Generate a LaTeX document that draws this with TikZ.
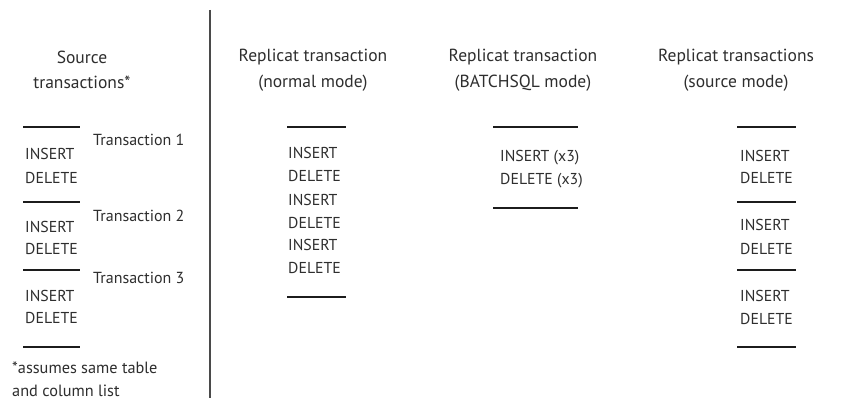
\documentclass[tikz,border=0pt]{standalone}
\usepackage{fontspec}
\setmainfont{PT Sans}
\usepackage{xcolor}
\definecolor{T0}{HTML}{2e2e2e}
\definecolor{B0}{HTML}{1c1c1c}
\definecolor{V0}{HTML}{4a4a4a}
\tikzset{
  ttl/.style={align=center,inner sep=0pt,text=T0,font=\fontsize{17.5}{25.5}\selectfont},
  op/.style={anchor=base west,inner sep=0pt,text=T0,font=\fontsize{15.8}{18}\selectfont},
  tlab/.style={anchor=base west,inner sep=0pt,text=T0,font=\fontsize{16}{18}\selectfont},
  note/.style={anchor=base west,inner sep=0pt,text=T0,font=\fontsize{16.3}{18}\selectfont},
}

\begin{document}
\begin{tikzpicture}[x=1pt,y=-1pt]
\useasboundingbox[fill=white] (0,0) rectangle (841,401);

\def\lw{2.6pt}

% titles
\node[ttl] (src) at (82,70) {Source\\transactions*};
\node[ttl] (nrm) at (313,70) {Replicat transaction\\(normal mode)};
\node[ttl] (bat) at (523,70) {Replicat transaction\\(BATCHSQL mode)};
\node[ttl] (smd) at (736,70) {Replicat transactions\\(source mode)};

% divider
\coordinate (d1) at (210,10);
\coordinate (d2) at (210,398);
\draw[color=V0,line width=2.4pt] (d1) -- (d2);

% source transactions
\foreach \y [count=\i] in {127,202,270,347}{
  \draw[color=B0,line width=\lw] (23,\y) -- (80,\y);
}
\foreach \y/\t [count=\i] in {146/1,222/2,283/3}{
  \node[tlab] (src-t\i) at (93,\y) {Transaction \t};
}
\foreach \y/\s [count=\i] in {160/INSERT,183/DELETE,232/INSERT,254/DELETE,301/INSERT,323/DELETE}{
  \node[op] (src-\i) at (25,\y) {\s};
}
\node[note] (n1) at (12,373) {*assumes same table};
\node[note] (n2) at (12,396) {and column list};

% normal mode
\foreach \y in {127,297}{
  \draw[color=B0,line width=\lw] (287,\y) -- (346,\y);
}
\foreach \y/\s [count=\i] in {159/INSERT,182/DELETE,205/INSERT,228/DELETE,250/INSERT,273/DELETE}{
  \node[op] (nrm-\i) at (288,\y) {\s};
}

% batchsql mode
\foreach \y in {127,208}{
  \draw[color=B0,line width=\lw] (493,\y) -- (578,\y);
}
\node[op] (bat-1) at (500,161) {INSERT (x3)};
\node[op] (bat-2) at (500,185) {DELETE (x3)};

% source mode
\foreach \y in {127,202,270,347}{
  \draw[color=B0,line width=\lw] (737,\y) -- (796,\y);
}
\foreach \y/\s [count=\i] in {161/INSERT,183/DELETE,230/INSERT,254/DELETE,301/INSERT,324/DELETE}{
  \node[op] (smd-\i) at (740,\y) {\s};
}

\end{tikzpicture}
\end{document}
